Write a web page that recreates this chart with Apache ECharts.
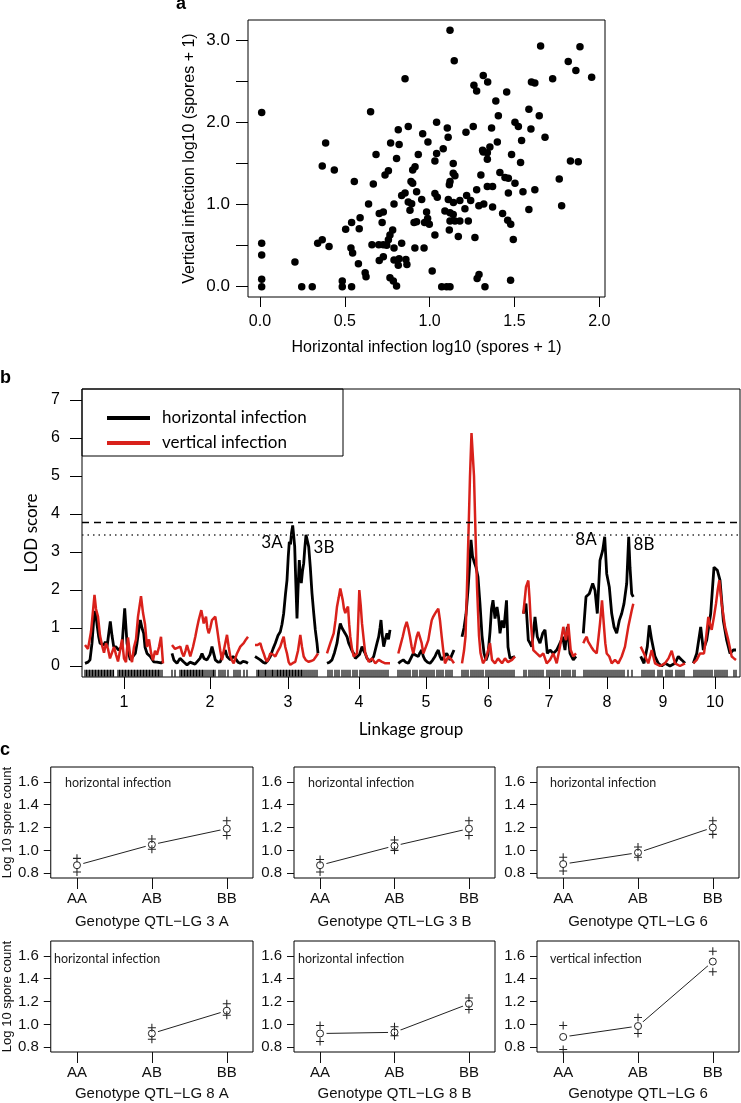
<!DOCTYPE html>
<html><head><meta charset="utf-8">
<script src="https://cdn.jsdelivr.net/npm/echarts@6/dist/echarts.min.js"></script>
<style>html,body{margin:0;padding:0;background:#fff}#c{width:741px;height:1103px}</style>
</head><body><div id="c"></div>
<script>
// ---------------- Panel a : scatter (horizontal, vertical) ----------------
const scatterHV = [
[0.01,2.12],[0.01,0.53],[0.01,0.385],[0.01,0.09],[0.01,0.0],[0.206,0.30],[0.246,0.0],[0.308,0.0],[0.387,1.75],[0.367,1.47],
[0.438,1.42],[0.34,0.53],[0.367,0.57],[0.407,0.49],[0.485,0.07],[0.485,0.0],[0.54,0.0],[0.556,1.28],[0.505,0.70],[0.54,0.78],
[0.585,0.705],[0.59,0.84],[0.536,0.47],[0.546,0.41],[0.58,0.28],[0.625,0.12],[0.62,0.17],[0.64,1.005],[0.652,2.13],[0.668,1.25],
[0.684,1.61],[0.66,0.51],[0.70,0.51],[0.727,0.51],[0.703,0.89],[0.727,0.91],[0.72,0.78],[0.703,0.32],[0.727,0.365],[0.747,0.505],
[0.757,0.57],[0.766,0.63],[0.782,0.69],[0.79,0.47],[0.737,1.36],[0.757,1.41],[0.77,1.75],[0.805,1.56],[0.82,1.73],[0.815,1.91],
[0.874,1.95],[0.855,2.53],[0.79,1.005],[0.766,0.11],[0.786,0.07],[0.805,0.01],[0.79,0.325],[0.82,0.34],[0.815,0.26],[0.835,1.11],
[0.855,1.14],[0.874,1.03],[0.884,0.93],[0.894,1.01],[0.89,1.28],[0.9,1.42],[0.914,1.46],[0.9,1.26],[0.933,1.61],[0.923,1.155],
[0.908,0.78],[0.923,0.79],[0.97,0.78],[0.913,0.47],[0.967,0.47],[0.959,1.86],[0.99,1.76],[0.953,1.06],[0.982,0.91],[0.988,0.83],
[0.835,0.53],[0.86,0.33],[0.866,0.27],
[1.12,3.12],[1.145,2.75],[1.654,2.93],[1.886,2.92],[1.817,2.74],[1.862,2.63],[1.955,2.55],[1.725,2.53],[1.6,2.49],[1.62,2.48],
[1.316,2.57],[1.342,2.49],[1.261,2.45],[1.277,2.38],[1.454,2.37],[1.39,2.26],[1.585,2.16],[1.646,2.08],[1.405,2.08],[1.503,2.0],
[1.523,1.95],[1.597,1.92],[1.68,1.82],[1.542,1.78],[1.365,1.93],[1.257,1.95],[1.214,1.88],[1.399,1.76],[1.312,1.66],[1.355,1.70],
[1.34,1.63],[1.316,1.64],[1.34,1.55],[1.483,1.61],[1.536,1.51],[1.83,1.53],[1.876,1.52],[1.041,2.0],[1.104,1.93],[1.109,1.82],
[1.08,1.68],[1.041,1.62],[1.031,1.53],[1.139,1.5],[1.139,1.38],[1.149,1.35],[1.12,1.28],[1.116,1.24],[1.302,1.36],[1.414,1.39],
[1.444,1.33],[1.464,1.32],[1.503,1.26],[1.764,1.31],[1.277,1.18],[1.34,1.22],[1.371,1.22],[1.464,1.14],[1.55,1.155],[1.62,1.18],
[1.031,1.135],[1.045,1.09],[1.11,1.06],[1.14,1.025],[1.178,1.05],[1.218,1.11],[1.242,1.05],[1.208,0.95],[1.29,0.985],[1.319,1.005],
[1.371,0.97],[1.778,0.985],[1.585,0.94],[1.09,0.92],[1.12,0.9],[1.139,0.88],[1.43,0.89],[1.46,0.81],[1.478,0.76],[1.493,0.575],
[1.12,0.80],[1.149,0.80],[1.178,0.80],[1.228,0.80],[0.998,0.76],[1.116,0.69],[1.031,0.63],[1.169,0.61],[1.267,0.6],[1.015,0.19],
[1.291,0.15],[1.28,0.1],[1.326,0],[1.071,0],[1.1,0],[1.12,0],[1.477,0.08]
];
const scatterXTicks = [0, 0.5, 1, 1.5, 2];
const scatterYTicks = [0, 0.5, 1, 1.5, 2, 2.5, 3];
const scatterYLabels = [0, 1, 2, 3];

// ---------------- Panel b : LOD profiles ----------------
const lgLabels = ['1','2','3','4','5','6','7','8','9','10'];
const lgCenters = [42, 128, 206, 277, 344, 406, 467, 525, 581, 633];
const lodTicks = [0, 1, 2, 3, 4, 5, 6, 7];
const thresholds = [3.79, 3.45];
const horizontalLOD = [
 [[3,0.07],[6,0.1],[8,0.16],[10,0.6],[11.7,1.21],[13.3,1.45],[15,1.1],[16.7,0.77],[18,0.6],[20,0.6],[22,0.55],[23.3,0.64],[25,0.5],[27,0.55],[28.3,1.17],[30,0.8],[31.7,0.51],[34,0.5],[36.7,0.42],[38,0.45],[40,0.51],[41,0.9],[42.7,1.52],[44,1.0],[45,0.6],[47,0.3],[48.3,0.16],[50,0.2],[53.3,0.33],[55,0.6],[57,1.0],[58.3,1.21],[60,1.0],[61.7,0.86],[63,0.5],[65,0.33],[68.3,0.25],[71.7,0.11],[75,0.1],[76.7,0.07],[79,0.08],[81,0.11]],
 [[90,0.33],[92,0.15],[95,0.07],[98,0.2],[100,0.25],[102,0.1],[105,0.03],[108,0.1],[110,0.11],[113,0.05],[115,0.07],[118,0.2],[120,0.33],[122,0.2],[125,0.16],[128,0.3],[130,0.51],[132,0.3],[133.3,0.16],[136,0.1],[138.3,0.11],[141,0.3],[143.3,0.42],[145,0.25],[148.3,0.16],[151,0.25],[153.3,0.2],[156,0.1],[158.3,0.07],[161,0.12],[163.3,0.11],[166,0.07]],
 [[173,0.25],[176,0.2],[178.3,0.16],[181,0.1],[183.3,0.07],[186,0.15],[188.3,0.25],[191,0.45],[193.3,0.6],[196,0.8],[198.3,0.9],[200,1.1],[201.7,1.39],[203.5,1.9],[205,2.26],[206.3,2.9],[207.3,3.27],[208.5,3.2],[209.5,3.5],[210.7,3.7],[211.8,3.4],[212.7,3.14],[213.8,2.2],[215,1.25],[216,2.0],[217.3,2.79],[218.3,2.4],[219.3,2.18],[220.5,2.5],[221.7,2.7],[222.8,3.1],[224,3.45],[225.3,3.3],[226.7,3.14],[228.3,2.6],[230,1.91],[231.7,1.4],[233.3,0.95],[235,0.6],[236,0.33]],
 [[245,0.07],[247.5,0.1],[250,0.16],[252.5,0.35],[255,0.6],[256.7,0.9],[258.3,1.12],[260,1.0],[261.7,0.95],[263.3,0.85],[265,0.77],[266.7,0.6],[268.3,0.51],[270,0.4],[271.7,0.33],[273.3,0.2],[275,0.16],[277.5,0.3],[280,0.51],[281.7,0.4],[283.3,0.33],[285,0.2],[286.7,0.16],[288.3,0.12],[290,0.11],[291.7,0.25],[293.3,0.42],[295,0.6],[296.7,0.77],[298,1.0],[299,1.21],[300.3,0.8],[301.7,0.51],[303.3,0.7],[305,0.86],[306.5,0.7],[308,0.95]],
 [[316.3,0.07],[318.8,0.12],[321.3,0.16],[323.8,0.1],[326.3,0.07],[328.8,0.2],[331.3,0.33],[333.8,0.28],[336.3,0.25],[338,0.35],[339.7,0.42],[341.3,0.25],[343,0.16],[345.5,0.1],[348,0.07],[350.5,0.15],[353,0.25],[354.7,0.35],[356.3,0.42],[358,0.25],[359.7,0.16],[362.2,0.25],[364.7,0.33],[366.3,0.25],[368,0.16],[370,0.3],[372,0.42]],
 [[380,0.77],[382,1.0],[384,1.36],[386,2.0],[387.5,2.6],[389,3.32],[390.5,2.9],[392,2.75],[394,2.6],[396,2.34],[398,1.63],[400,0.8],[402,0.34],[404,0.15],[406,0.3],[408,0.9],[409.5,1.5],[411,1.73],[413,1.25],[415,1.55],[416.5,1.3],[418,0.86],[420,1.2],[422,1.0],[424.5,1.73],[426,0.5],[428,0.2],[430,0.16],[433,0.25]],
 [[441.3,1.38],[444,1.64],[446.3,0.68],[448,0.6],[449.7,0.51],[451.5,0.9],[453,1.29],[455.3,0.77],[458,0.6],[460.7,0.86],[463,0.95],[465.3,0.33],[468,0.42],[471.3,0.33],[474.7,0.42],[478,0.6],[480.7,0.77],[483,0.42],[485.3,1.03],[488,0.33],[491.3,0.16],[494,0.25]],
 [[501.3,0.86],[504,1.82],[507.3,1.9],[510.7,2.17],[513,1.99],[515.3,1.38],[518,2.78],[520.7,3.04],[522.7,3.4],[524.7,2.43],[527.3,2.08],[529.7,1.38],[532,1.03],[534.7,0.86],[537.3,1.2],[539.7,1.38],[542,1.64],[544.7,2.17],[546.7,3.4],[548,2.6],[549.7,1.9],[551.3,1.82]],
 [[558.7,0.25],[562,0.07],[565.3,0.51],[567.3,1.07],[569.7,0.68],[573,0.25],[576.3,0.07],[579.7,0],[583,0.07],[588,0],[593,0.07],[596.3,0.25],[599.7,0.16],[603,0.07]],
 [[611.3,0.07],[614.7,0.33],[618.7,1.03],[621.3,0.42],[624.7,0.68],[628.7,1.38],[632,2.6],[635.3,2.52],[638,2.26],[641.3,1.2],[644.7,0.68],[648,0.33],[651.3,0.42],[654,0.42]]
];
const verticalLOD = [
 [[3,0.55],[6,0.45],[9,0.9],[12.5,1.87],[14,1.5],[16,1.3],[18,0.8],[20,0.55],[22,0.35],[24,0.6],[26,0.45],[28,0.2],[30,0.15],[32,0.5],[34,0.3],[36,0.12],[38,0.4],[40,0.7],[42,0.2],[44,0.1],[46,0.75],[48,0.3],[50,0.1],[52,0.5],[54,0.7],[56,1.3],[59,1.84],[61,1.4],[63,1.1],[65,0.5],[67,0.7],[69,0.35],[71,0.15],[73,0.4],[75,0.3],[77,0.5],[79,0.77],[81,0.07]],
 [[90,0.55],[93,0.45],[95,0.42],[98.3,0.51],[100,0.35],[101.7,0.25],[103.5,0.4],[105,0.55],[106.7,0.4],[108.3,0.25],[111,0.5],[113.3,0.77],[115,1.0],[116.7,1.21],[119.3,1.47],[120.5,1.3],[121.7,1.12],[124,1.3],[125.3,1.0],[126.7,0.86],[128.3,1.0],[130,1.21],[133.3,1.3],[135,1.0],[136.7,0.68],[138.3,0.4],[140,0.16],[142.5,0.5],[145,0.82],[146.7,0.5],[148.3,0.25],[150,0.15],[151.7,0.07],[153.3,0.2],[155,0.33],[158.3,0.51],[161.7,0.6],[164,0.7],[166,0.77]],
 [[173,0.55],[175.5,0.55],[178.3,0.6],[180,0.45],[181.7,0.33],[183.3,0.2],[185,0.11],[186.7,0.2],[188.3,0.33],[191,0.3],[193.3,0.25],[196,0.4],[198.3,0.51],[200,0.65],[201.7,0.77],[203.3,0.5],[205,0.33],[206.7,0.1],[208.3,0.03],[211,0.08],[213.3,0.11],[216,0.4],[218.3,0.82],[220,0.5],[221.7,0.25],[224,0.15],[226.7,0.11],[229,0.13],[231.7,0.16],[234,0.25],[236,0.33]],
 [[245,0.33],[248.3,0.6],[251.7,0.86],[253.5,1.2],[255,1.56],[256.7,1.8],[258.3,2.04],[260.7,1.74],[262,1.5],[263.3,1.39],[264.7,1.5],[266,1.56],[267.2,1.1],[268.3,0.77],[270,0.45],[271.7,0.25],[273.3,0.28],[275,0.33],[276,1.0],[277.3,2.0],[278.7,1.6],[280,1.12],[281.7,0.7],[283.3,0.33],[286.7,0.11],[290,0.2],[293.3,0.07],[296.7,0.16],[300,0.11],[303.3,0.07],[308,0.07]],
 [[316.3,0.33],[318.5,0.55],[320.7,0.77],[322.7,1.0],[324.7,1.16],[326.3,1.0],[328,0.77],[329.7,0.5],[331.3,0.33],[333,0.55],[334.7,0.77],[336.3,0.9],[338,0.86],[339.7,0.6],[341.3,0.33],[343.8,0.5],[346.3,0.68],[348,0.95],[349.7,1.2],[351.3,1.3],[353,1.38],[354.7,1.45],[356.3,1.51],[358,1.2],[359.7,0.77],[361.3,0.4],[363,0.07],[364.7,0.16],[366.3,0.25],[368,0.2],[369.7,0.16],[372,0.07]],
 [[380,0.07],[382,0.4],[383.5,0.77],[385,2.09],[386.5,3.5],[388,5.0],[389.5,6.13],[390.5,6.1],[392,5.0],[393.5,3.5],[395,2.09],[397,0.8],[398.5,0.34],[401,0.07],[404,0.2],[408,0.6],[410,0.16],[413,0.07],[416,0.2],[420,0.07],[423,0.2],[426,0.1],[430,0.16],[433,0.25]],
 [[441.3,1.38],[444,2.08],[446.3,2.25],[447.5,1.8],[448.7,1.2],[450,0.8],[451.3,0.42],[454.7,0.33],[458,0.25],[461.3,0.33],[464.7,0.07],[468,0.16],[471.3,0.33],[474.7,0.07],[478,0.51],[481.3,1.03],[484,0.68],[486.3,1.11],[488.7,0.42],[491.3,0.25],[494,0.33]],
 [[501.3,0.6],[503,0.7],[504.7,0.77],[506,0.65],[507.3,0.6],[509.3,0.5],[511.3,0.42],[513,0.38],[514.7,0.33],[516.3,0.7],[518,1.12],[520,1.73],[522,1.03],[523.3,0.6],[524.7,0.33],[527.3,0.25],[529.7,0.07],[533,0.16],[536.3,0.07],[539.7,0.25],[543,0.51],[546.3,1.03],[549.7,1.46],[551.3,1.64]],
 [[558.7,0.51],[562,0.33],[564,0.2],[566.3,0.07],[569.7,0.42],[573,0.07],[578,0],[583,0.07],[586.5,0.2],[589.7,0.4],[593,0.07],[598,0],[603,0.07]],
 [[611.3,0.07],[614.7,0.16],[618,0.33],[620,0.3],[622,0.33],[624.3,0.8],[626.3,1.29],[628,1.1],[629.7,0.95],[632,1.3],[634,1.64],[635.7,2.0],[637.3,2.26],[639.7,1.64],[643,1.03],[646.3,0.68],[649.7,0.25],[652,0.2],[654,0.16]]
];
const markerPos = [
 [3,4.5,6,7.5,9,10.5,12,13.5,15,16.5,18,19.5,21,22.5,24,25.5,27,28.5,30,31.5,36,37.5,39,40.5,42,43.5,45,46.5,48,49.5,51,52.5,54,55.5,57,58.5,60,61.5,63,64.5,66,67.5,69,70.5,72,73.5,75,76.5,78,80],
 [90,93,98,99.5,101,102.5,104,105.5,107,108.5,110,111.5,113,114.5,116,117.5,119,120.5,122,124,126,128,130,131.5,133,137,139,141,143,146,152,154,156,158,162,165],
 [175,176.5,178,180,182,183.5,185,187,189,190.5,192,194,195.5,197,198.5,200,201.5,203,204.5,206,207.5,209,210.5,212,213.5,215,216.5,218,219.5,221,223,225,227,229,231,233,235],
 [246,248,250,253,255,257,260,262,264,266,268,271,273,275,278,280,282,284,286,288,290,292,294,296,298,300,302,304,306],
 [316,318,320,322,324,326,328,331,333,335,338,340,342,344,346,348,350,352,355,357,359,361,364,366,368,370],
 [380,382,384,386,389,391,393,395,397,399,401,404,406,408,410,412,414,416,418,420,422,424,426,428,430,432],
 [442,444,447,449,451,453,455,457,459,461,465,467,469,471,473,475,477,480,482,484,486,488,491,493],
 [502,504,506,508,510,512,514,516,518,520,522,524,526,528,530,532,534,536,538,540,542,546,550],
 [560,562,564,566,568,570,572,576,578,580,584,586,588,590,594,596,598,600,602],
 [612,614,616,618,620,622,624,626,628,630,633,635,637,639,641,643,645,652,654]
];
const qtlLabels = ['3A', '3B', '8A', '8B'];
const qtlLabelPos = [190, 242, 504, 562];
const qtlLabelLOD = [3.24, 3.13, 3.32, 3.21];

// ---------------- Panel c : genotype effects ----------------
const genotypes = ['AA', 'AB', 'BB'];
const effectTitles = ['Genotype QTL\u2212LG 3 A','Genotype QTL\u2212LG 3 B','Genotype QTL\u2212LG 6','Genotype QTL\u2212LG 8 A','Genotype QTL\u2212LG 8 B','Genotype QTL\u2212LG 6'];
const effectTraits = ['horizontal infection','horizontal infection','horizontal infection','horizontal infection','horizontal infection','vertical infection'];
const effectMean  = [[0.87,1.05,1.19],[0.87,1.04,1.19],[0.88,0.98,1.20],[null,0.92,1.12],[0.92,0.93,1.18],[0.89,0.985,1.55]];
const effectUpper = [[0.93,1.10,1.26],[0.92,1.09,1.26],[0.94,1.03,1.26],[null,0.97,1.18],[0.99,0.98,1.23],[0.99,1.06,1.64]];
const effectLower = [[0.81,1.01,1.13],[0.81,1.00,1.13],[0.82,0.94,1.14],[null,0.87,1.08],[0.85,0.90,1.13],[0.78,0.92,1.46]];
const effectYTicks = [0.8, 1.0, 1.2, 1.4, 1.6];
const genoX = [1, 2, 3];

// ---------------- build ----------------
const FA = '"Liberation Sans", Arial, Helvetica, sans-serif';
const FN = '"Liberation Sans Narrow", "Liberation Sans", Arial, sans-serif';
const FH = 'Lato, "Open Sans", "DejaVu Sans", sans-serif';
const INK = '#111';

function lodData(groups) {
  const out = [];
  groups.forEach((g, i) => {
    if (i > 0) { const prev = groups[i-1]; out.push([(prev[prev.length-1][0] + g[0][0]) / 2, '-']); }
    g.forEach(p => out.push(p));
  });
  return out;
}

const grids = [
  {left: 248, top: 20, width: 357, height: 277},
  {left: 82, top: 389, width: 658, height: 288}
];
const cLeft = [50, 294, 537], cW = [203, 201, 202], cTop = [767, 941], cH = 111;
for (let r = 0; r < 2; r++) for (let c = 0; c < 3; c++) grids.push({left: cLeft[c], top: cTop[r], width: cW[c], height: cH});
grids.forEach(g => { g.show = true; g.borderColor = '#000'; g.borderWidth = 1; g.containLabel = false; });

const noLine = {show: false, onZero: false};
const xAxes = [], yAxes = [];
xAxes.push({gridIndex: 0, type: 'value', min: -0.0707, max: 2.0336, axisLine: noLine, splitLine: {show: false},
  axisTick: {show: true, length: 10, customValues: scatterXTicks, lineStyle: {color: '#000'}},
  axisLabel: {customValues: scatterXTicks, formatter: v => v.toFixed(1), fontFamily: FA, fontSize: 16, color: '#000', margin: 17},
  name: 'Horizontal infection log10 (spores + 1)', nameLocation: 'middle', nameGap: 43,
  nameTextStyle: {fontFamily: FA, fontSize: 16, color: '#000'}});
yAxes.push({gridIndex: 0, type: 'value', min: -0.125, max: 3.245, axisLine: noLine, splitLine: {show: false},
  axisTick: {show: true, length: 12, customValues: scatterYTicks, lineStyle: {color: '#000'}},
  axisLabel: {customValues: scatterYLabels, formatter: v => v.toFixed(1), fontFamily: FA, fontSize: 17, color: '#000', margin: 18},
  name: 'Vertical infection log10 (spores + 1)', nameLocation: 'middle', nameGap: 50,
  nameTextStyle: {fontFamily: FA, fontSize: 16, color: '#000'}});
xAxes.push({gridIndex: 1, type: 'value', min: 0, max: 658, axisLine: noLine, splitLine: {show: false},
  axisTick: {show: true, length: 12, customValues: lgCenters, lineStyle: {color: '#000'}},
  axisLabel: {customValues: lgCenters, formatter: v => { const i = lgCenters.indexOf(v); return i >= 0 ? lgLabels[i] : ''; },
    fontFamily: FA, fontSize: 16, color: '#000', margin: 18},
  name: 'Linkage group', nameLocation: 'middle', nameGap: 44, nameTextStyle: {fontFamily: FH, fontSize: 17, color: '#000'}});
yAxes.push({gridIndex: 1, type: 'value', min: -0.29, max: 7.29, axisLine: noLine, splitLine: {show: false},
  axisTick: {show: true, length: 12, customValues: lodTicks, lineStyle: {color: '#000'}},
  axisLabel: {customValues: lodTicks, formatter: v => String(v), fontFamily: FA, fontSize: 16, color: '#000', margin: 22},
  name: 'LOD score', nameLocation: 'middle', nameGap: 40, nameTextStyle: {fontFamily: FH, fontSize: 17, color: '#000'}});
for (let k = 0; k < 6; k++) {
  const row = Math.floor(k / 3), col = k % 3;
  xAxes.push({gridIndex: 2 + k, type: 'value', min: 0.65, max: 3.35, axisLine: noLine, splitLine: {show: false},
    axisTick: {show: true, length: 11, customValues: genoX, lineStyle: {color: INK}},
    axisLabel: {customValues: genoX, formatter: v => genotypes[Math.round(v) - 1], fontFamily: FN, fontSize: 15, color: INK, margin: 13},
    name: effectTitles[k], nameLocation: 'middle', nameGap: row === 0 ? 36 : 34, nameTextStyle: {fontFamily: FN, fontSize: 15, color: INK}});
  yAxes.push({gridIndex: 2 + k, type: 'value', min: 0.758, max: 1.73, axisLine: noLine, splitLine: {show: false},
    axisTick: {show: true, length: 7, customValues: effectYTicks, lineStyle: {color: INK}},
    axisLabel: {customValues: effectYTicks, formatter: v => v.toFixed(1), fontFamily: FN, fontSize: 15, color: INK, margin: 12},
    name: col === 0 ? 'Log 10 spore count' : '', nameLocation: 'middle', nameGap: 35,
    nameTextStyle: {fontFamily: FA, fontSize: 13, color: INK}});
}

const series = [];
series.push({type: 'scatter', xAxisIndex: 0, yAxisIndex: 0, data: scatterHV, symbol: 'circle', symbolSize: 7.5,
  itemStyle: {color: '#000', opacity: 1}, silent: true});
series.push({name: 'horizontal infection', type: 'line', xAxisIndex: 1, yAxisIndex: 1, data: lodData(horizontalLOD),
  showSymbol: false, connectNulls: false, lineStyle: {color: '#000', width: 2.8}, itemStyle: {color: '#000'}, z: 3,
  markLine: {silent: true, symbol: 'none', label: {show: false},
    data: [{yAxis: thresholds[0], lineStyle: {type: [7, 5], color: '#000', width: 1.4}},
           {yAxis: thresholds[1], lineStyle: {type: [1.5, 4], color: '#333', width: 1.5}}]}});
series.push({name: 'vertical infection', type: 'line', xAxisIndex: 1, yAxisIndex: 1, data: lodData(verticalLOD),
  showSymbol: false, connectNulls: false, lineStyle: {color: '#d9211b', width: 2.5}, itemStyle: {color: '#d9211b'}, z: 4});
series.push({type: 'scatter', xAxisIndex: 1, yAxisIndex: 1, data: markerPos.flat().map(p => [p, -0.19]),
  symbol: 'rect', symbolSize: [1.2, 7], itemStyle: {color: '#000', opacity: 1}, silent: true, z: 2});
series.push({type: 'scatter', xAxisIndex: 1, yAxisIndex: 1, data: qtlLabelPos.map((p, i) => [p, qtlLabelLOD[i]]),
  symbolSize: 1, itemStyle: {color: 'rgba(0,0,0,0)', opacity: 1}, silent: true, z: 6,
  label: {show: true, position: 'inside', formatter: p => qtlLabels[p.dataIndex], fontFamily: FH, fontSize: 17, color: '#000'}});

const plusPath = 'path://M-0.65,-5H0.65V-0.65H5V0.65H0.65V5H-0.65V0.65H-5V-0.65H-0.65Z';
for (let k = 0; k < 6; k++) {
  const ax = 2 + k;
  const means = genoX.map((x, i) => [x, effectMean[k][i] == null ? '-' : effectMean[k][i]]);
  const valid = means.filter(d => d[1] !== '-');
  const pluses = [];
  genoX.forEach((x, i) => {
    if (effectUpper[k][i] != null) pluses.push([x, effectUpper[k][i]]);
    if (effectLower[k][i] != null) pluses.push([x, effectLower[k][i]]);
  });
  series.push({type: 'line', xAxisIndex: ax, yAxisIndex: ax, data: means, showSymbol: false, connectNulls: false,
    lineStyle: {color: '#222', width: 1}, silent: true, z: 2});
  series.push({type: 'scatter', xAxisIndex: ax, yAxisIndex: ax, data: valid, symbol: 'circle', symbolSize: 13,
    itemStyle: {color: '#fff', opacity: 1}, silent: true, z: 3});
  series.push({type: 'scatter', xAxisIndex: ax, yAxisIndex: ax, data: pluses, symbol: plusPath, symbolSize: 8,
    itemStyle: {color: '#222', opacity: 1}, silent: true, z: 4});
  series.push({type: 'scatter', xAxisIndex: ax, yAxisIndex: ax, data: valid, symbol: 'circle', symbolSize: 7,
    itemStyle: {color: 'rgba(255,255,255,0)', borderColor: '#222', borderWidth: 1, opacity: 1}, silent: true, z: 5});
}

const traitPos = [[65, 783], [308, 783], [550, 783], [54, 959], [298, 959], [550, 959]];
const graphic = [
  {type: 'rect', shape: {x: 82, y: 389, width: 261, height: 67}, style: {fill: 'none', stroke: '#000', lineWidth: 1}, z: 100, silent: true},
  {type: 'text', style: {text: 'a', x: 176, y: 13, fontFamily: FA, fontWeight: 'bold', fontSize: 18, fill: '#000', textVerticalAlign: 'bottom'}, z: 100},
  {type: 'text', style: {text: 'b', x: 0, y: 387, fontFamily: FA, fontWeight: 'bold', fontSize: 18, fill: '#000', textVerticalAlign: 'bottom'}, z: 100},
  {type: 'text', style: {text: 'c', x: 0, y: 759, fontFamily: FA, fontWeight: 'bold', fontSize: 18, fill: '#000', textVerticalAlign: 'bottom'}, z: 100}
];
effectTraits.forEach((t, k) => {
  graphic.push({type: 'text', style: {text: t, x: traitPos[k][0], y: traitPos[k][1], fontFamily: FH, fontSize: 12.5, fill: '#222', textVerticalAlign: 'middle'}, z: 100});
});

const chart = echarts.init(document.getElementById('c'));
chart.setOption({
  animation: false,
  backgroundColor: '#fff',
  grid: grids,
  xAxis: xAxes,
  yAxis: yAxes,
  legend: {data: ['horizontal infection', 'vertical infection'], orient: 'vertical', left: 102, top: 403,
    itemWidth: 43, itemHeight: 4, icon: 'rect', itemGap: 5, selectedMode: false,
    textStyle: {fontFamily: FH, fontSize: 17, color: '#000', lineHeight: 20, padding: [0, 0, 0, 7]}},
  series: series,
  graphic: graphic
});
</script>
</body></html>
